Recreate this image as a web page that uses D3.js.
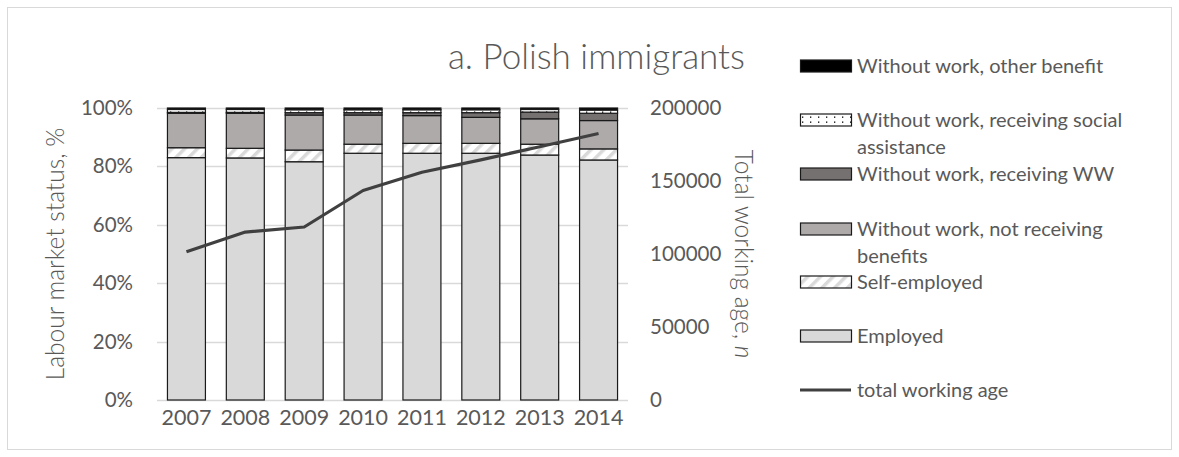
<!DOCTYPE html>
<html>
<head>
<meta charset="utf-8">
<script src="https://cdn.jsdelivr.net/npm/d3@7"></script>
<style>
  html, body { margin: 0; padding: 0; background: #fff; }
  svg text { font-family: Lato, "Open Sans", sans-serif; fill: #595959; }
</style>
</head>
<body>
<svg id="chart" width="1179" height="457"></svg>
<script>
const years = ["2007", "2008", "2009", "2010", "2011", "2012", "2013", "2014"];
const employed         = [83.0, 82.9, 81.6, 84.5, 84.5, 84.5, 83.9, 82.2];
const selfEmployed     = [3.4, 3.3, 4.0, 3.1, 3.4, 3.4, 3.7, 3.8];
const notReceiving     = [11.8, 12.0, 12.0, 10.0, 9.5, 8.9, 8.7, 9.7];
const receivingWW      = [0.3, 0.3, 0.8, 0.8, 1.0, 1.6, 2.3, 2.5];
const socialAssistance = [1.0, 1.0, 1.0, 1.0, 1.0, 1.0, 0.9, 1.1];
const otherBenefit     = [0.5, 0.5, 0.6, 0.6, 0.6, 0.6, 0.5, 0.7];
const totalWorkingAge  = [101500, 115000, 118500, 143500, 156000, 164500, 173500, 182500];
const leftTicks  = [0, 20, 40, 60, 80, 100];
const rightTicks = [0, 50000, 100000, 150000, 200000];
const seriesKeys = ["employed", "self", "notrec", "ww", "social", "other"];

const svg = d3.select("#chart");
const plot = { left: 157, right: 628, top: 108, bottom: 400 };

// outer frame
svg.append("rect").attr("x", 7.5).attr("y", 7.5).attr("width", 1164).attr("height", 442)
  .attr("fill", "none").attr("stroke", "#d9d9d9").attr("stroke-width", 1);

// patterns
const defs = svg.append("defs");
const hatch = defs.append("pattern").attr("id", "hatch").attr("patternUnits", "userSpaceOnUse")
  .attr("width", 9).attr("height", 9).attr("patternTransform", "rotate(45)");
hatch.append("rect").attr("width", 9).attr("height", 9).attr("fill", "#fff");
hatch.append("rect").attr("x", 0).attr("y", 0).attr("width", 3.5).attr("height", 9).attr("fill", "#d9d9d9");

const dots = defs.append("pattern").attr("id", "dots").attr("patternUnits", "userSpaceOnUse")
  .attr("width", 8).attr("height", 5);
dots.append("rect").attr("width", 8).attr("height", 5).attr("fill", "#fff");
dots.append("rect").attr("x", 2).attr("y", 1.5).attr("width", 1.3).attr("height", 1.3).attr("fill", "#000");

const fills = {
  employed: "#d9d9d9",
  self: "url(#hatch)",
  notrec: "#aeaaaa",
  ww: "#767171",
  social: "url(#dots)",
  other: "#000000"
};

const rows = years.map((y, i) => ({
  year: y, employed: employed[i], self: selfEmployed[i], notrec: notReceiving[i],
  ww: receivingWW[i], social: socialAssistance[i], other: otherBenefit[i]
}));

const x = d3.scaleBand().domain(years).range([plot.left, plot.right])
  .paddingInner(0.355).paddingOuter(0.1775);
const yL = d3.scaleLinear().domain([0, 100]).range([plot.bottom, plot.top]);
const yR = d3.scaleLinear().domain([0, 200000]).range([plot.bottom, plot.top]);

// gridlines
svg.append("g").selectAll("line").data(leftTicks).join("line")
  .attr("x1", plot.left).attr("x2", plot.right)
  .attr("y1", d => Math.round(yL(d)) + 0.5).attr("y2", d => Math.round(yL(d)) + 0.5)
  .attr("stroke", "#d9d9d9").attr("stroke-width", 1.3);

// bars
const stack = d3.stack().keys(seriesKeys)(rows);
svg.append("g").selectAll("g").data(stack).join("g")
  .attr("fill", d => fills[d.key])
  .selectAll("rect").data(d => d).join("rect")
  .attr("x", d => x(d.data.year))
  .attr("width", x.bandwidth())
  .attr("y", d => yL(d[1]))
  .attr("height", d => yL(d[0]) - yL(d[1]))
  .attr("stroke", "#1a1a1a").attr("stroke-width", 1.2);

// line
const line = d3.line().x((d, i) => x(years[i]) + x.bandwidth() / 2).y(d => yR(d));
svg.append("path").datum(totalWorkingAge).attr("d", line)
  .attr("fill", "none").attr("stroke", "#404040").attr("stroke-width", 3.2)
  .attr("stroke-linejoin", "round");

// axes
const axL = d3.axisLeft(yL).tickValues(leftTicks).tickFormat(d => d + "%").tickSize(0).tickPadding(24);
const gL = svg.append("g").attr("transform", `translate(${plot.left},0)`).call(axL);
gL.select(".domain").remove();
gL.selectAll("text").attr("font-size", 20.5).style("font-family", "Lato").attr("fill", "#595959");

const axR = d3.axisRight(yR).tickValues(rightTicks).tickFormat(d3.format("d")).tickSize(0).tickPadding(22);
const gR = svg.append("g").attr("transform", `translate(${plot.right},0)`).call(axR);
gR.select(".domain").remove();
gR.selectAll("text").attr("font-size", 20.5).style("font-family", "Lato").attr("fill", "#595959");

const axB = d3.axisBottom(x).tickSize(0).tickPadding(10);
const gB = svg.append("g").attr("transform", `translate(0,${plot.bottom})`).call(axB);
gB.select(".domain").remove();
gB.selectAll("text").attr("font-size", 21.5).style("font-family", "Lato").attr("fill", "#595959");

// axis titles
svg.append("text").attr("transform", `translate(64,${(plot.top + plot.bottom) / 2}) rotate(-90)`)
  .attr("text-anchor", "middle").attr("font-size", 24.5).attr("font-weight", 300)
  .text("Labour market status, %");
const rt = svg.append("text").attr("transform", `translate(735,${(plot.top + plot.bottom) / 2}) rotate(90)`)
  .attr("text-anchor", "middle").attr("font-size", 24.5).attr("font-weight", 300);
rt.append("tspan").text("Total working age, ");
rt.append("tspan").attr("font-style", "italic").text("n");

// title
svg.append("text").attr("x", 745).attr("y", 69).attr("text-anchor", "end")
  .attr("font-size", 35).attr("font-weight", 300).text("a. Polish immigrants");

// legend
const legendItems = [
  { key: "other", lines: ["Without work, other benefit"], y: 66 },
  { key: "social", lines: ["Without work, receiving social", "assistance"], y: 120 },
  { key: "ww", lines: ["Without work, receiving WW"], y: 174 },
  { key: "notrec", lines: ["Without work, not receiving", "benefits"], y: 229 },
  { key: "self", lines: ["Self-employed"], y: 282 },
  { key: "employed", lines: ["Employed"], y: 336 },
  { key: "line", lines: ["total working age"], y: 390 }
];
const lg = svg.append("g");
legendItems.forEach(it => {
  if (it.key === "line") {
    lg.append("line").attr("x1", 800).attr("x2", 851).attr("y1", it.y).attr("y2", it.y)
      .attr("stroke", "#404040").attr("stroke-width", 3.2);
  } else {
    lg.append("rect").attr("x", 800.5).attr("y", it.y - 6).attr("width", 51).attr("height", 12)
      .attr("fill", fills[it.key]).attr("stroke", "#1a1a1a").attr("stroke-width", 1.2);
  }
  const t = lg.append("text").attr("x", 857).attr("y", it.y + 7).attr("font-size", 20);
  it.lines.forEach((l, j) => t.append("tspan").attr("x", 857).attr("dy", j === 0 ? 0 : 27).text(l));
});
</script>
</body>
</html>
